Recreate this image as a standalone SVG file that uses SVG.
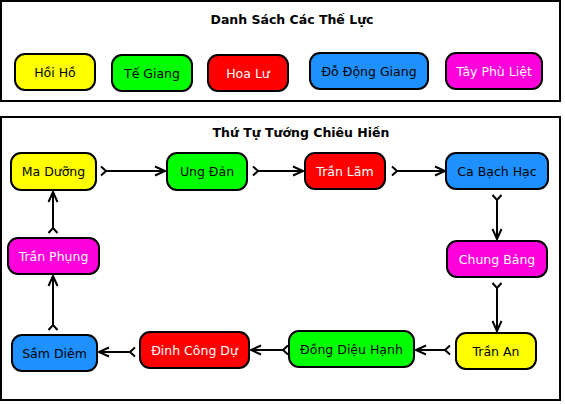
<svg xmlns="http://www.w3.org/2000/svg" width="565" height="404" viewBox="0 0 565 404">
<style>
.frame{fill:#fff;stroke:#000;stroke-width:2}
.node rect{stroke:#000;stroke-width:2}
text{font-family:"DejaVu Sans","Noto Sans",sans-serif;font-size:12.5px;text-anchor:middle}
.title{font-weight:bold;font-size:12.5px}
.dark{fill:#000}
.light{fill:#fff}
.y{fill:#ffff00}.g{fill:#00ff00}.r{fill:#ff0000}.b{fill:#1e90ff}.m{fill:#ff00dd}
.edge{fill:none;stroke:#000;stroke-width:2}
</style>
<defs>
<marker id="head" markerUnits="userSpaceOnUse" viewBox="-12 -6 14 12" refX="0" refY="0" markerWidth="14" markerHeight="12" orient="auto" overflow="visible">
<path d="M-10,-4.5 L0,0 L-10,4.5" fill="none" stroke="#000" stroke-width="2"/>
</marker>
<marker id="tail" markerUnits="userSpaceOnUse" viewBox="-7 -6 9 12" refX="0" refY="0" markerWidth="9" markerHeight="12" orient="auto" overflow="visible">
<path d="M-5,-4.5 L0,0 L-5,4.5" fill="none" stroke="#000" stroke-width="2"/>
</marker>
</defs>
<rect width="565" height="404" fill="#fff"/>
<g id="legend-frame">
<rect class="frame" x="1" y="1" width="559" height="100"/>
<text class="title dark" x="292" y="24">Danh Sách Các Thế Lực</text>
</g>
<g id="order-frame">
<rect class="frame" x="1" y="117" width="559" height="283"/>
<text class="title dark" x="301" y="137">Thứ Tự Tướng Chiêu Hiền</text>
</g>
<g id="legend-hoi-ho" class="node"><rect class="y" x="15" y="54" width="80" height="36" rx="10"/><text class="dark" x="55" y="76.5">Hồi Hồ</text></g>
<g id="legend-te-giang" class="node"><rect class="g" x="112" y="55" width="80" height="36" rx="10"/><text class="dark" x="152" y="77.5">Tế Giang</text></g>
<g id="legend-hoa-lu" class="node"><rect class="r" x="208" y="55" width="80" height="36" rx="10"/><text class="light" x="248" y="77.5">Hoa Lư</text></g>
<g id="legend-do-dong-giang" class="node"><rect class="b" x="310" y="53" width="118" height="36" rx="10"/><text class="dark" x="369" y="75.5">Đỗ Động Giang</text></g>
<g id="legend-tay-phu-liet" class="node"><rect class="m" x="446" y="53" width="96" height="36" rx="10"/><text class="light" x="494" y="75.5">Tây Phù Liệt</text></g>

<g id="connectors">
<path class="edge" d="M106,171 L165,171" marker-start="url(#tail)" marker-end="url(#head)"/>
<path class="edge" d="M258,171 L303,171" marker-start="url(#tail)" marker-end="url(#head)"/>
<path class="edge" d="M397,171 L445,171" marker-start="url(#tail)" marker-end="url(#head)"/>
<path class="edge" d="M497,200 L497,239" marker-start="url(#tail)" marker-end="url(#head)"/>
<path class="edge" d="M497,288 L497,331" marker-start="url(#tail)" marker-end="url(#head)"/>
<path class="edge" d="M445,350 L416,350" marker-start="url(#tail)" marker-end="url(#head)"/>
<path class="edge" d="M283,350 L251,350" marker-start="url(#tail)" marker-end="url(#head)"/>
<path class="edge" d="M130,352 L99,352" marker-start="url(#tail)" marker-end="url(#head)"/>
<path class="edge" d="M53,325 L53,276" marker-start="url(#tail)" marker-end="url(#head)"/>
<path class="edge" d="M53,228 L53,192" marker-start="url(#tail)" marker-end="url(#head)"/>
</g>

<g id="ma-duong" class="node"><rect class="y" x="11" y="153" width="85" height="37" rx="10"/><text class="dark" x="53.5" y="176">Ma Dưỡng</text></g>
<g id="ung-dan" class="node"><rect class="g" x="167" y="153" width="80" height="37" rx="10"/><text class="dark" x="207" y="176">Ung Đản</text></g>
<g id="tran-lam" class="node"><rect class="r" x="305" y="153" width="80" height="36" rx="10"/><text class="light" x="345" y="175.5">Trần Lãm</text></g>
<g id="ca-bach-hac" class="node"><rect class="b" x="446" y="153" width="102" height="36" rx="10"/><text class="dark" x="497" y="175.5">Ca Bạch Hạc</text></g>
<g id="chung-bang" class="node"><rect class="m" x="447" y="241" width="100" height="36" rx="10"/><text class="light" x="497" y="263.5">Chung Bảng</text></g>
<g id="tran-an" class="node"><rect class="y" x="456" y="333" width="80" height="36" rx="10"/><text class="dark" x="496" y="355.5">Trần An</text></g>
<g id="dong-dieu-hanh" class="node"><rect class="g" x="289" y="331" width="125" height="36" rx="10"/><text class="dark" x="351.5" y="353.5">Đồng Diệu Hạnh</text></g>
<g id="dinh-cong-du" class="node"><rect class="r" x="140" y="332" width="109" height="36" rx="10"/><text class="light" x="194.5" y="354.5">Đinh Công Dự</text></g>
<g id="sam-diem" class="node"><rect class="b" x="12" y="335" width="85" height="36" rx="10"/><text class="dark" x="54.5" y="357.5">Sầm Diêm</text></g>
<g id="tran-phung" class="node"><rect class="m" x="8" y="238" width="91" height="36" rx="10"/><text class="light" x="53.5" y="260.5">Trần Phụng</text></g>
</svg>
